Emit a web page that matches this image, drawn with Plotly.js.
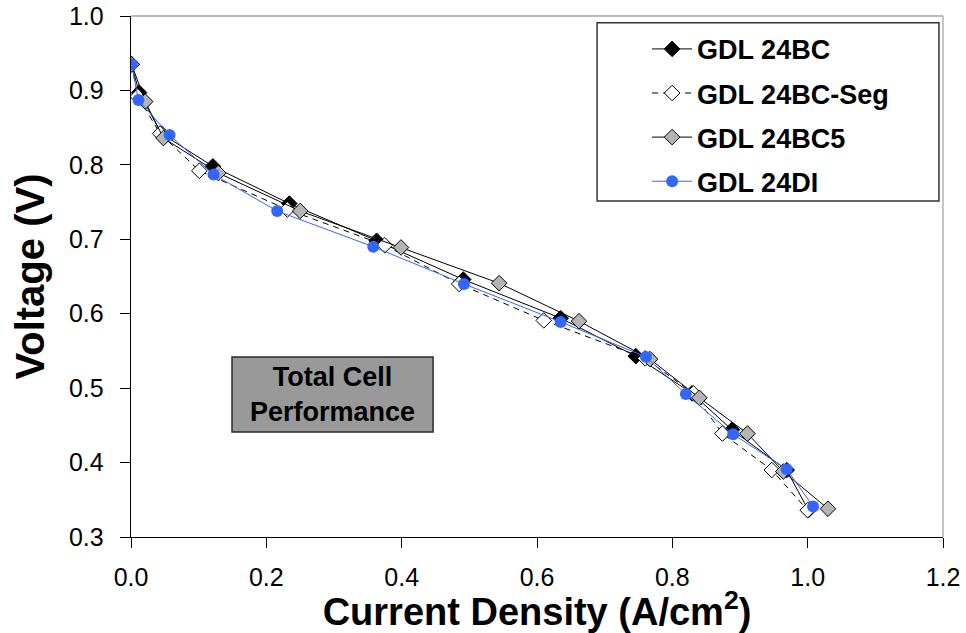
<!DOCTYPE html>
<html>
<head>
<meta charset="utf-8">
<script src="https://cdn.plot.ly/plotly-3.0.1.min.js"></script>
<style>html,body{margin:0;padding:0;background:#fff;}#chart{width:966px;height:633px;}</style>
</head>
<body>
<div id="chart"></div>
<script>
// Series names
const seriesNames = ["GDL 24BC", "GDL 24BC-Seg", "GDL 24BC5", "GDL 24DI"];

// Current density (A/cm2) and voltage (V)
const bcX  = [0.001, 0.012, 0.045, 0.121, 0.234, 0.363, 0.491, 0.635, 0.746, 0.829, 0.888, 0.969, 1.001];
const bcY  = [0.935, 0.897, 0.842, 0.798, 0.748, 0.698, 0.646, 0.594, 0.543, 0.493, 0.444, 0.390, 0.336];

const segX = [0.001, 0.010, 0.043, 0.101, 0.231, 0.375, 0.485, 0.610, 0.760, 0.831, 0.874, 0.947, 1.000];
const segY = [0.935, 0.892, 0.842, 0.792, 0.740, 0.692, 0.640, 0.591, 0.540, 0.493, 0.439, 0.390, 0.336];

const bc5X = [0.001, 0.021, 0.048, 0.129, 0.250, 0.399, 0.544, 0.662, 0.767, 0.840, 0.911, 0.964, 1.030];
const bc5Y = [0.935, 0.885, 0.836, 0.789, 0.738, 0.689, 0.641, 0.590, 0.539, 0.487, 0.439, 0.388, 0.338];

const diX  = [0.001, 0.011, 0.057, 0.122, 0.216, 0.358, 0.492, 0.635, 0.761, 0.820, 0.890, 0.969, 1.008];
const diY  = [0.935, 0.887, 0.840, 0.787, 0.738, 0.690, 0.640, 0.589, 0.542, 0.492, 0.438, 0.391, 0.341];

// Axis ticks
const xTicks = [0.0, 0.2, 0.4, 0.6, 0.8, 1.0, 1.2];
const xTickText = ["0.0", "0.2", "0.4", "0.6", "0.8", "1.0", "1.2"];
const yTicks = [0.3, 0.4, 0.5, 0.6, 0.7, 0.8, 0.9, 1.0];
const yTickText = ["0.3", "0.4", "0.5", "0.6", "0.7", "0.8", "0.9", "1.0"];

const FONT = "Liberation Sans, Arial, sans-serif";

const traces = [
  {x: bcX, y: bcY, name: seriesNames[0], mode: "lines+markers", legendgroup: "a",
   line: {color: "#000000", width: 1},
   marker: {symbol: "diamond", size: 12, color: "#000000", line: {color: "#000000", width: 1}}},
  {x: segX, y: segY, name: seriesNames[1], mode: "lines+markers", legendgroup: "b",
   line: {color: "#000000", width: 1, dash: "6px,5px"},
   marker: {symbol: "diamond", size: 12, color: "#ffffff", line: {color: "#000000", width: 1}}},
  {x: bc5X, y: bc5Y, name: seriesNames[2], mode: "lines+markers", legendgroup: "c",
   line: {color: "#000000", width: 1},
   marker: {symbol: "diamond", size: 12, color: "#b4b4b4", line: {color: "#000000", width: 1}}},
  {x: diX, y: diY, name: seriesNames[3], mode: "lines+markers", legendgroup: "d",
   line: {color: "#3366ff", width: 1},
   marker: {symbol: "circle", size: 12, color: "#3366ff", line: {width: 0}}}
];

const axisCommon = {showgrid: false, zeroline: false, ticklen: 10, tickwidth: 1, tickcolor: "#000"};

const layout = {
  width: 966, height: 633,
  margin: {l: 131, r: 23, t: 16, b: 96},
  paper_bgcolor: "#ffffff", plot_bgcolor: "#ffffff",
  font: {family: FONT, color: "#000"},
  showlegend: true,
  legend: {x: 0.6356, y: 0.983, xanchor: "left", yanchor: "top",
    bgcolor: "rgba(0,0,0,0)", borderwidth: 0, itemwidth: 40, tracegroupgap: 6,
    font: {family: FONT, size: 27, weight: "bold", color: "#000"}},
  xaxis: Object.assign({}, axisCommon, {
    range: [0, 1.2], tickvals: xTicks, ticktext: xTickText, ticks: "outside",
    showline: true, linecolor: "#000", linewidth: 1.3, ticklabelstandoff: 8,
    tickfont: {family: FONT, size: 25, color: "#000"},
    title: {text: "<b>Current Density (A/cm<sup>2</sup>)</b>", font: {family: FONT, size: 38, color: "#000"}, standoff: 0}
  }),
  yaxis: Object.assign({}, axisCommon, {
    range: [0.3, 1.0], tickvals: yTicks, ticktext: yTickText, ticks: "outside",
    showline: true, linecolor: "#000", linewidth: 1.3, ticklabelstandoff: 11,
    tickfont: {family: FONT, size: 25, color: "#000"},
    title: {text: "<b>Voltage (V)</b>", font: {family: FONT, size: 40, color: "#000"}, standoff: 12}
  }),
  xaxis2: Object.assign({}, axisCommon, {
    overlaying: "x", matches: "x", anchor: "y", side: "bottom", range: [0, 1.2],
    tickvals: xTicks, ticks: "inside", showticklabels: false, showline: false
  }),
  yaxis2: Object.assign({}, axisCommon, {
    overlaying: "y", matches: "y", anchor: "x", side: "left", range: [0.3, 1.0],
    tickvals: yTicks, ticks: "inside", showticklabels: false, showline: false
  }),
  shapes: [
    {type: "line", xref: "paper", yref: "paper", x0: 0, x1: 1, y0: 1, y1: 1, line: {color: "#a6a6a6", width: 1.3}},
    {type: "line", xref: "paper", yref: "paper", x0: 1, x1: 1, y0: 0, y1: 1, line: {color: "#a6a6a6", width: 1.3}},
    {type: "rect", xref: "paper", yref: "paper", x0: 0.574, x1: 0.995, y0: 0.645, y1: 0.987,
     line: {color: "#333", width: 1.5}, fillcolor: "rgba(0,0,0,0)", layer: "below"},
    {type: "rect", xref: "paper", yref: "paper", x0: 0.1244, x1: 0.372, y0: 0.2015, y1: 0.3455,
     line: {color: "#2a2a2a", width: 1.5}, fillcolor: "#999999", layer: "below"}
  ],
  annotations: [
    {xref: "paper", yref: "paper", x: 0.2482, y: 0.2735, xanchor: "center", yanchor: "middle",
     showarrow: false, text: "<b>Total Cell<br>Performance</b>", align: "center",
     font: {family: FONT, size: 27, color: "#000"}}
  ]
};

Plotly.newPlot("chart", traces, layout, {displayModeBar: false, staticPlot: true});
</script>
</body>
</html>
